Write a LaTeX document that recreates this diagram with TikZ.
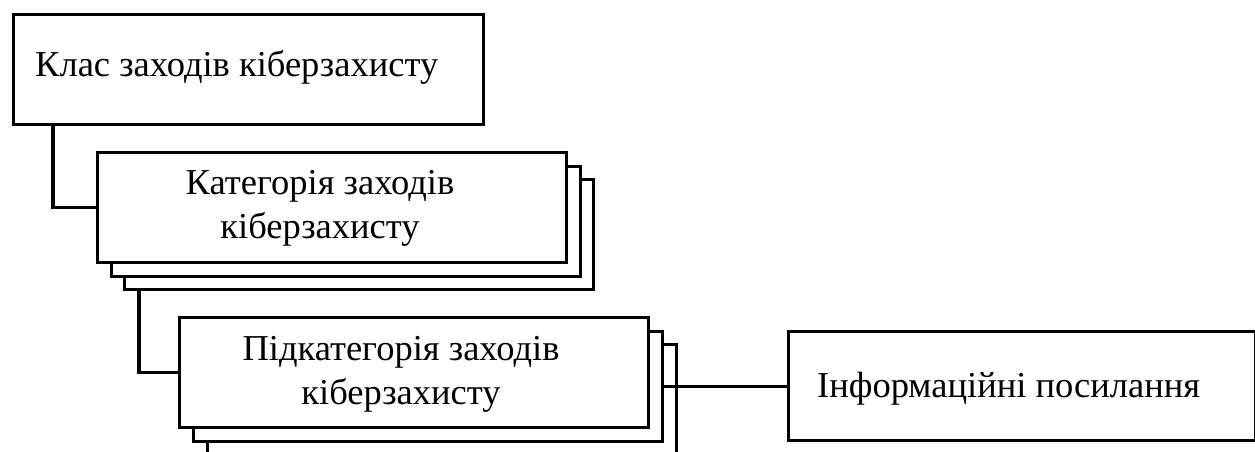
\documentclass[tikz,border=0pt]{standalone}
\usepackage{fontspec}
\setmainfont{Liberation Serif}
\begin{document}
\begin{tikzpicture}[x=1pt,y=-1pt,
  box/.style={draw, line width=3.2pt, fill=white, minimum width=469pt, minimum height=110pt, inner sep=0pt, anchor=north west},
  lbl/.style={font=\fontsize{36.5}{44}\selectfont, align=center, inner sep=0pt},
  conn/.style={line width=3.2pt}]
\useasboundingbox (0,0) rectangle (1255,451);
\clip (0,0) rectangle (1255,451);
% class
\node[box, minimum width=470pt] (k1) at (12,13) {};
\node[lbl, anchor=base west] (t1) at (35,76) {Клас заходів кіберзахисту};
% category stack
\node[box] (c2c) at (123,178) {};
\node[box] (c2b) at (109.5,164.5) {};
\node[box] (c2f) at (96,151) {};
\node[lbl] (t2) at (320,208) {Категорія заходів\\кіберзахисту};
% subcategory stack
\node[box] (c3c) at (206,343) {};
\node[box] (c3b) at (192,329.5) {};
\node[box] (c3f) at (178,316) {};
\node[lbl] (t3) at (401,374) {Підкатегорія заходів\\кіберзахисту};
% info
\node[box, minimum width=467pt, minimum height=109pt] (inf) at (787,330) {};
\node[lbl, anchor=base west] (t4) at (817,397) {Інформаційні посилання};
% connectors
\coordinate (j1) at (53,0);
\coordinate (j2) at (139,0);
\draw[conn] (k1.south -| j1) |- (c2f.west);
\draw[conn] (c2c.south -| j2) |- (c3f.west);
\draw[conn] (inf.west) -- (inf.west -| c3b.east);
\end{tikzpicture}
\end{document}
